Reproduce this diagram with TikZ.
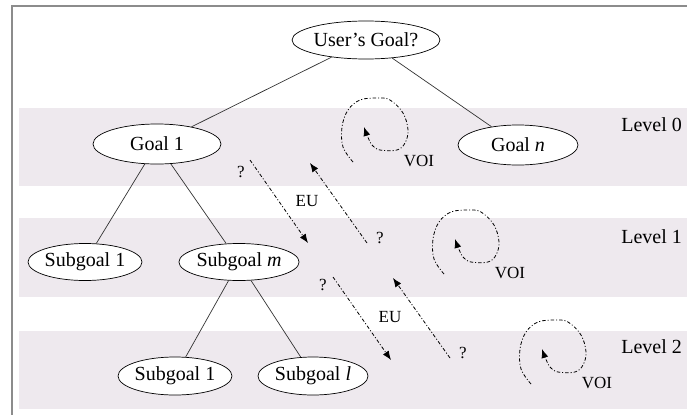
\documentclass[tikz,border=0pt]{standalone}
\usepackage{fontspec}
\setmainfont{Liberation Serif}
\usetikzlibrary{shapes.geometric,arrows.meta}
\definecolor{bandcol}{RGB}{238,233,238}
\definecolor{framecol}{RGB}{140,140,140}
\tikzset{
  goalnode/.style={ellipse,draw,fill=white,line width=0.7pt,inner sep=0pt,font=\fontsize{20}{24}\selectfont},
  treeline/.style={line width=0.7pt,draw=black!80},
  band/.style={fill=bandcol,draw=none},
  dashdotline/.style={line width=0.8pt,dash pattern=on 3.5pt off 2pt on 1pt off 2pt},
  euarrow/.style={dashdotline,-{Latex[length=9pt,width=7pt]}},
  smalltxt/.style={font=\fontsize{17}{20}\selectfont,inner sep=0pt},
  leveltxt/.style={font=\fontsize{20}{24}\selectfont,inner sep=0pt,anchor=east},
  voispiral/.pic={
    \draw[euarrow] plot[smooth,tension=0.6] coordinates {(-22,37) (-32,22) (-33,2) (-27,-15) (-15,-25) (2,-27) (15,-25) (28,-12) (33,5) (30,18) (22,25) (5,25) (-3,20) (-8,10) (-11,2)};
    \node[smalltxt] (-voi) at (44,36) {VOI};
  }
}
\begin{document}
\begin{tikzpicture}[x=1pt,y=-1pt]
\useasboundingbox (0,0) rectangle (687,415);
% frame
\draw[framecol,line width=2pt] (687,6) -- (11.5,6) -- (11.5,415);
% bands
\fill[band] (19,108) rectangle (687,186);
\fill[band] (19,218) rectangle (687,297);
\fill[band] (19,331) rectangle (687,409);
% level labels
\node[leveltxt] (lv0) at (682,125) {Level 0};
\node[leveltxt] (lv1) at (682,237) {Level 1};
\node[leveltxt] (lv2) at (682,347) {Level 2};
% nodes
\node[goalnode,minimum width=116,minimum height=38] (ug) at (366,40) {User’s Goal?};
\node[goalnode,minimum width=128,minimum height=40] (g1) at (157,144) {Goal 1};
\node[goalnode,minimum width=120,minimum height=40] (gn) at (518,145) {Goal \textit{n}};
\node[goalnode,minimum width=112,minimum height=37] (s1) at (85,262) {Subgoal 1};
\node[goalnode,minimum width=114,minimum height=37] (sm) at (239,262) {Subgoal \textit{m}};
\node[goalnode,minimum width=113,minimum height=38] (ss1) at (175,376) {Subgoal 1};
\node[goalnode,minimum width=110,minimum height=38] (ssl) at (313,376) {Subgoal \textit{l}};
% tree edges
\draw[treeline] (ug) -- (g1);
\draw[treeline] (ug) -- (gn);
\draw[treeline] (g1) -- (s1);
\draw[treeline] (g1) -- (sm);
\draw[treeline] (sm) -- (ss1);
\draw[treeline] (sm) -- (ssl);
% EU / ? arrows
\coordinate (a1s) at (250,160); \coordinate (a1e) at (308,243);
\coordinate (a2s) at (367,243); \coordinate (a2e) at (310,163);
\coordinate (a3s) at (333,277); \coordinate (a3e) at (391,360);
\coordinate (a4s) at (450,358); \coordinate (a4e) at (393,278);
\draw[euarrow] (a1s) -- (a1e);
\draw[euarrow] (a2s) -- (a2e);
\draw[euarrow] (a3s) -- (a3e);
\draw[euarrow] (a4s) -- (a4e);
\node[smalltxt] (q1) at (241,172) {?};
\node[smalltxt] (q2) at (380,238) {?};
\node[smalltxt] (q3) at (323,285) {?};
\node[smalltxt] (q4) at (463,353) {?};
\node[smalltxt] (eu1) at (307,201) {EU};
\node[smalltxt] (eu2) at (390,317) {EU};
% VOI spirals
\pic (sp0) at (375,125) {voispiral};
\pic (sp1) at (466,237) {voispiral};
\pic (sp2) at (553,347) {voispiral};
\end{tikzpicture}
\end{document}
